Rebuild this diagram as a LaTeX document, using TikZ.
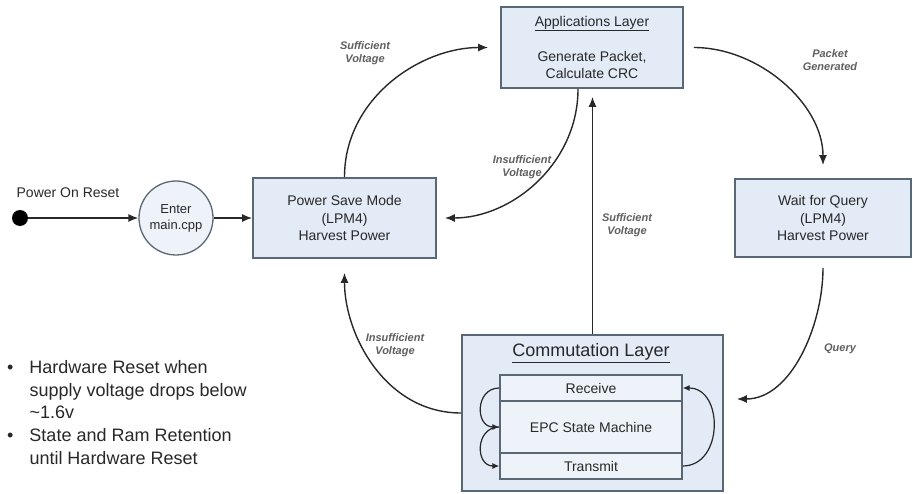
\documentclass[tikz,border=0pt]{standalone}
\usepackage{fontspec}
\setmainfont{Liberation Sans}
\usetikzlibrary{arrows.meta}
\definecolor{boxfill}{RGB}{226,235,246}
\definecolor{boxline}{RGB}{90,104,118}
\definecolor{ink}{RGB}{40,40,40}
\definecolor{note}{RGB}{95,95,95}
\begin{document}
\begin{tikzpicture}[x=1pt,y=-1pt,>={Latex[length=10pt,width=8pt]},
  layer/.style={draw=boxline,line width=1.8pt,fill=boxfill,text=ink,align=center,inner sep=0pt,font=\fontsize{14}{17.5}\selectfont},
  cell/.style={draw=boxline,line width=1.3pt,fill=boxfill!60,text=ink,minimum width=182pt,inner sep=0pt,font=\fontsize{14}{17}\selectfont},
  flow/.style={->,draw=ink,line width=1.4pt},
  tag/.style={text=note,align=center,font=\fontsize{11}{13}\selectfont\bfseries\itshape}]
\useasboundingbox(0,0)rectangle(913,494);
\node[circle,fill=black,minimum size=16pt,inner sep=0pt](dot) at(20,218){};
\node[text=ink,font=\fontsize{14}{17}\selectfont](por) at(68,193){Power On Reset};
\node[circle,draw=boxline,line width=1.3pt,fill=boxfill!60,minimum size=74pt,inner sep=0pt,align=center,text=ink,font=\fontsize{13}{16}\selectfont](enter) at(176,218){Enter\\main.cpp};
\node[layer,minimum width=183pt,minimum height=80pt](psm) at(344.5,218){Power Save Mode\\(LPM4)\\Harvest Power};
\node[layer,minimum width=182pt,minimum height=81pt](app) at(592,47.5){\underline{Applications Layer}\\[17.5pt]Generate Packet,\\Calculate CRC};
\node[layer,minimum width=176pt,minimum height=78pt](wait) at(823,218){Wait for Query\\(LPM4)\\Harvest Power};
\node[layer,minimum width=261pt,minimum height=156pt](comm) at(592.5,413){};
\node[text=ink,font=\fontsize{18}{22}\selectfont](commtitle) at(591,353){\underline{Commutation Layer}};
\node[cell,minimum height=26pt](rx) at(591,388){Receive};
\node[cell,minimum height=52pt](epc) at(591,427){EPC State Machine};
\node[cell,minimum height=26pt](tx) at(591,466){Transmit};
\draw[flow](dot)--(enter);
\draw[flow](enter)--(psm);
\draw[flow,shorten >=12pt](psm.north)to[out=90,in=180](app.west);
\draw[flow,shorten >=8pt]([xshift=-14pt]app.south)to[out=-90,in=0](psm.east);
\draw[flow,shorten >=8pt](comm.north)--(comm.north|-app.south);
\draw[flow,shorten >=14pt](comm.west)to[out=180,in=-90](psm.south);
\draw[flow,shorten <=10pt,shorten >=13pt](app.east)to[out=0,in=90](wait.north);
\draw[flow,shorten <=10pt,shorten >=13pt](wait.south)to[out=-90,in=0]([yshift=14pt]comm.east);
\draw[flow,line width=1.2pt,>={Latex[length=7pt,width=6pt]}](rx.west)to[out=180,in=180,looseness=1.6](epc.west);
\draw[flow,line width=1.2pt,>={Latex[length=7pt,width=6pt]}](epc.west)to[out=180,in=180,looseness=1.6](tx.west);
\draw[flow,line width=1.2pt,>={Latex[length=7pt,width=6pt]}](tx.east)to[out=0,in=0,looseness=1.35](rx.east);
\node[tag](suf1) at(365,53){Sufficient\\Voltage};
\node[tag](ins1) at(522,167){Insufficient\\Voltage};
\node[tag](suf2) at(627,225){Sufficient\\Voltage};
\node[tag](ins2) at(395,345){Insufficient\\Voltage};
\node[tag](pkt) at(830,60){Packet\\Generated};
\node[tag](qry) at(840,349){Query};
\node[text=ink,anchor=base west,inner sep=0pt,font=\fontsize{18}{23}\selectfont](hwnote) at(7,373){%
\begin{tabular}[t]{@{}l@{\hspace{16pt}}l@{}}
\textbullet&Hardware Reset when\\
&supply voltage drops below\\
&\textasciitilde1.6v\\
\textbullet&State and Ram Retention\\
&until Hardware Reset
\end{tabular}};
\end{tikzpicture}
\end{document}
